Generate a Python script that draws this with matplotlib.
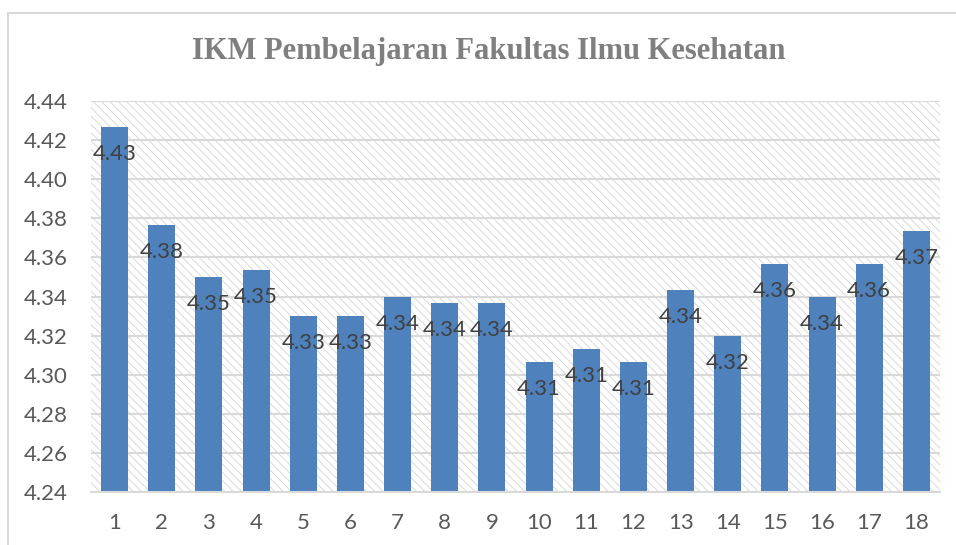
import numpy as np
import matplotlib
matplotlib.use('Agg')
import matplotlib.pyplot as plt
from matplotlib.patches import Rectangle

# data
categories = [str(i) for i in range(1, 19)]
values = [4.4265, 4.3767, 4.3502, 4.3535, 4.3299, 4.3299, 4.3400, 4.3366, 4.3366,
          4.3064, 4.3133, 4.3064, 4.3434, 4.3199, 4.3567, 4.3400, 4.3567, 4.3733]
y_ticks = [4.24, 4.26, 4.28, 4.30, 4.32, 4.34, 4.36, 4.38, 4.40, 4.42, 4.44]
title = 'IKM Pembelajaran Fakultas Ilmu Kesehatan'

bar_color = '#4f81bd'
grid_color = '#d9d9d9'

plt.rcParams['font.family'] = ['Lato', 'DejaVu Sans']
plt.rcParams['hatch.linewidth'] = 0.6

fig = plt.figure(figsize=(9.56, 5.45), dpi=100)

# outer chart border
fig.patches.append(Rectangle((8 / 956, -0.01), 1.0, 1 - 13 / 545 + 0.01,
                             transform=fig.transFigure, fill=False,
                             edgecolor=grid_color, linewidth=1.5))

ax = fig.add_axes([91 / 956, 1 - 492 / 545, 849 / 956, 391 / 545])

# hatched plot area
ax.add_patch(Rectangle((0, 0), 1, 1, transform=ax.transAxes, facecolor='white',
                       edgecolor='#d4d4d4', linewidth=0, hatch='\\\\\\\\', zorder=0))

x = np.arange(len(categories))
bars = ax.bar(x, values, width=0.57, color=bar_color, zorder=2)

for xi, v in zip(x, values):
    ax.annotate(f'{v:.2f}', (xi, v), xytext=(0, -19.5), textcoords='offset points',
                ha='center', va='center', fontsize=16, color='#404040', zorder=3)

ax.set_ylim(4.24, 4.44)
ax.set_xlim(-0.5, len(categories) - 0.5)
ax.set_yticks(y_ticks)
ax.set_yticklabels([f'{t:.2f}' for t in y_ticks])
ax.set_xticks(x)
ax.set_xticklabels(categories)
ax.tick_params(axis='both', length=0, labelsize=16, labelcolor='#595959')
ax.tick_params(axis='y', pad=17)
ax.tick_params(axis='x', pad=15)

ax.grid(axis='y', color=grid_color, linewidth=1.5, zorder=1)
ax.set_axisbelow(True)
for side in ['top', 'right', 'left']:
    ax.spines[side].set_visible(False)
ax.spines['bottom'].set_color(grid_color)
ax.spines['bottom'].set_linewidth(1.5)

fig.text(489 / 956, 1 - 52 / 545, title, ha='center', va='center',
         fontsize=22, fontweight='bold', color='#7f7f7f', family='Liberation Serif')

fig.savefig('out.png', dpi=100)
